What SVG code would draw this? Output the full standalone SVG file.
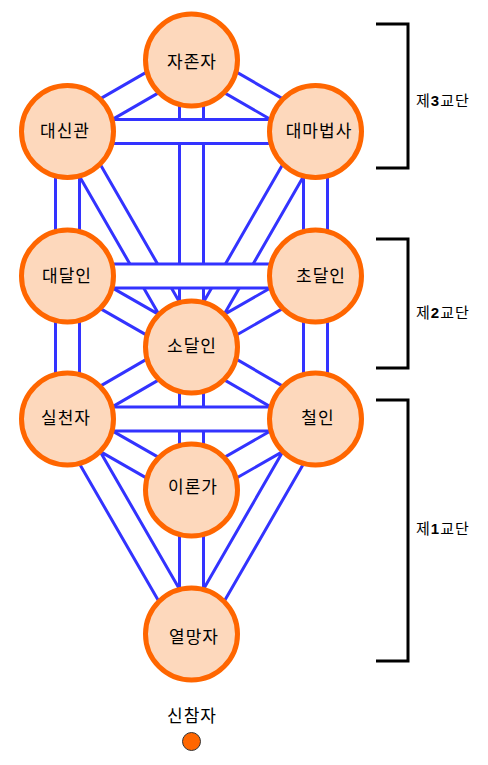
<svg xmlns="http://www.w3.org/2000/svg" xmlns:xlink="http://www.w3.org/1999/xlink" width="488" height="765" viewBox="0 0 488 765">
<style>
  .edge-outer { fill: none; stroke: #3333ff; stroke-width: 27; stroke-linecap: butt; stroke-linejoin: miter; }
  .edge-inner { fill: none; stroke: #ffffff; stroke-width: 21; stroke-linecap: butt; stroke-linejoin: miter; }
  .node circle { fill: #fdd8bc; stroke: #ff6600; stroke-width: 5; }
  .node text, .label { font-family: "Liberation Sans", "Noto Sans CJK KR", sans-serif; fill: #000; }
  .node text { font-size: 17px; text-anchor: middle; dominant-baseline: central; letter-spacing: 1px; }
  .label { font-size: 15px; letter-spacing: 1px; dominant-baseline: central; }
  .label tspan { font-weight: bold; }
  .bracket { fill: none; stroke: #000; stroke-width: 3; }
</style>
<defs>
  <path id="channels" d="M191.5,60 L67.5,131.5 M191.5,60 L315.5,131.5 M191.5,60 L191.5,347 M67.5,131.5 L67.5,276 M67.5,131.5 L191.5,347 M315.5,131.5 L315.5,276 M315.5,131.5 L191.5,347 M67.5,276 L191.5,347 M67.5,276 L67.5,419 M315.5,276 L191.5,347 M315.5,276 L315.5,419 M191.5,347 L67.5,419 M191.5,347 L315.5,419 M191.5,347 L191.5,490 M67.5,419 L191.5,490 M67.5,419 L191.5,634 M315.5,419 L191.5,490 M315.5,419 L191.5,634 M191.5,490 L191.5,634"/>
  <path id="crossbars" d="M67.5,131.5 L315.5,131.5 M67.5,276 L315.5,276 M67.5,419 L315.5,419"/>
</defs>
<rect width="488" height="765" fill="#ffffff"/>
<g id="connectors">
  <use xlink:href="#channels" href="#channels" class="edge-outer"/>
  <use xlink:href="#channels" href="#channels" class="edge-inner"/>
  <use xlink:href="#crossbars" href="#crossbars" class="edge-outer"/>
  <use xlink:href="#crossbars" href="#crossbars" class="edge-inner"/>
</g>
<g id="n1" class="node"><circle cx="191.5" cy="60" r="46"/><text x="192" y="62">자존자</text></g>
<g id="n2" class="node"><circle cx="67.5" cy="131.5" r="46"/><text x="65" y="131">대신관</text></g>
<g id="n3" class="node"><circle cx="315.5" cy="131.5" r="46"/><text x="319" y="131">대마법사</text></g>
<g id="n4" class="node"><circle cx="67.5" cy="276" r="46"/><text x="67" y="276">대달인</text></g>
<g id="n5" class="node"><circle cx="315.5" cy="276" r="46"/><text x="321" y="276">초달인</text></g>
<g id="n6" class="node"><circle cx="191.5" cy="347" r="46"/><text x="192" y="346">소달인</text></g>
<g id="n7" class="node"><circle cx="67.5" cy="419" r="46"/><text x="66" y="418">실천자</text></g>
<g id="n8" class="node"><circle cx="315.5" cy="419" r="46"/><text x="318" y="418">철인</text></g>
<g id="n9" class="node"><circle cx="191.5" cy="490" r="46"/><text x="193" y="487">이론가</text></g>
<g id="n10" class="node"><circle cx="191.5" cy="634" r="46"/><text x="194" y="637">열망자</text></g>
<g id="n11" class="node"><text x="192" y="716">신참자</text><circle cx="191.5" cy="741.5" r="9" style="fill:#ff6600;stroke:#333333;stroke-width:1"/></g>
<g id="brackets">
  <path class="bracket" d="M376,24 H408 V168 H376"/>
  <path class="bracket" d="M376,239 H408 V368 H376"/>
  <path class="bracket" d="M376,400 H408 V661 H376"/>
  <text class="label" x="416" y="100">제<tspan>3</tspan>교단</text>
  <text class="label" x="416" y="312">제<tspan>2</tspan>교단</text>
  <text class="label" x="416" y="528">제<tspan>1</tspan>교단</text>
</g>
</svg>
